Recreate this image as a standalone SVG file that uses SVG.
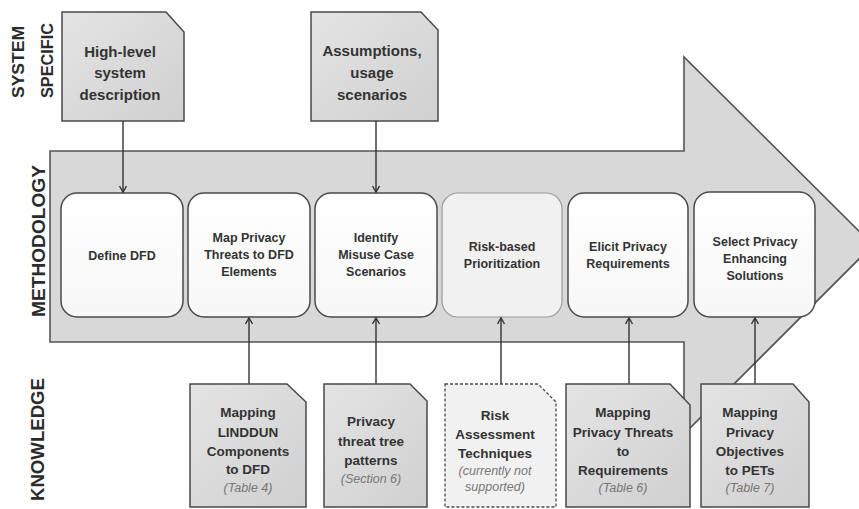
<svg xmlns="http://www.w3.org/2000/svg" width="859" height="509" viewBox="0 0 859 509">
  <defs>
    <linearGradient id="docFill" x1="0" y1="0" x2="1" y2="1">
      <stop offset="0" stop-color="#e4e4e4"/>
      <stop offset="1" stop-color="#d0d0d0"/>
    </linearGradient>
    <linearGradient id="stepFill" x1="0" y1="0" x2="0" y2="1">
      <stop offset="0" stop-color="#ffffff"/>
      <stop offset="1" stop-color="#f7f7f7"/>
    </linearGradient>
    <marker id="head" markerWidth="10" markerHeight="10" refX="7" refY="4" orient="auto" markerUnits="userSpaceOnUse">
      <path d="M1,0.5 L7,4 L1,7.5" fill="none" stroke="#333" stroke-width="1.4"/>
    </marker>
  </defs>
  <style>
    .lane { font-family: "Liberation Sans", Arial, sans-serif; font-weight: bold; fill: #2b2b2b; }
    .doc { fill: url(#docFill); stroke: #4a4a4a; stroke-width: 1.5; }
    .doc-open { fill: #f1f1f1; stroke: #4a4a4a; stroke-width: 1.3; stroke-dasharray: 3 2; }
    .step { fill: url(#stepFill); stroke: #4a4a4a; stroke-width: 1.5; }
    .step-soft { fill: #f1f1f1; stroke: #9a9a9a; stroke-width: 1.2; }
    .t { font-family: "Liberation Sans", Arial, sans-serif; font-weight: bold; fill: #333; text-anchor: middle; }
    .top { font-size: 15px; }
    .mid { font-size: 12.5px; }
    .kn { font-size: 13.5px; }
    .ref { font-family: "Liberation Sans", Arial, sans-serif; font-style: italic; fill: #777; text-anchor: middle; font-size: 12.5px; }
    .conn { stroke: #333; stroke-width: 1.4; fill: none; marker-end: url(#head); }
  </style>

  <!-- lane labels -->
  <g id="lanes">
    <text class="lane" font-size="17" transform="translate(24,98) rotate(-90)" textLength="72" lengthAdjust="spacingAndGlyphs">SYSTEM</text>
    <text class="lane" font-size="17" transform="translate(53,98) rotate(-90)" textLength="75" lengthAdjust="spacingAndGlyphs">SPECIFIC</text>
    <text class="lane" font-size="18.5" transform="translate(45,317) rotate(-90)" textLength="152" lengthAdjust="spacingAndGlyphs">METHODOLOGY</text>
    <text class="lane" font-size="18.5" transform="translate(44,501) rotate(-90)" textLength="123" lengthAdjust="spacingAndGlyphs">KNOWLEDGE</text>
  </g>

  <!-- big process arrow -->
  <g id="process-arrow">
    <polygon points="50,151 684,151 684,57 873,245 684,434 684,342 50,342" fill="#d8d8d8" stroke="#555" stroke-width="1.6" stroke-linejoin="miter"/>
  </g>

  <!-- system specific inputs -->
  <g id="sys-description">
    <path class="doc" d="M62,12 H166 L184,32 V121 H62 Z"/>
    <text class="t top" x="120" y="57">High-level</text>
    <text class="t top" x="120" y="78">system</text>
    <text class="t top" x="120" y="100">description</text>
  </g>
  <g id="sys-assumptions">
    <path class="doc" d="M311,12 H421 L438,30 V121 H311 Z"/>
    <text class="t top" x="372" y="56">Assumptions,</text>
    <text class="t top" x="372" y="78">usage</text>
    <text class="t top" x="372" y="100">scenarios</text>
  </g>

  <!-- methodology steps -->
  <g id="step-define-dfd">
    <rect class="step" x="61" y="193" width="122" height="124" rx="16"/>
    <text class="t mid" x="122" y="260">Define DFD</text>
  </g>
  <g id="step-map-threats">
    <rect class="step" x="188" y="193" width="122" height="124" rx="16"/>
    <text class="t mid" x="249" y="242">Map Privacy</text>
    <text class="t mid" x="249" y="259">Threats to DFD</text>
    <text class="t mid" x="249" y="276">Elements</text>
  </g>
  <g id="step-misuse">
    <rect class="step" x="315" y="193" width="122" height="124" rx="16"/>
    <text class="t mid" x="376" y="242">Identify</text>
    <text class="t mid" x="376" y="259">Misuse Case</text>
    <text class="t mid" x="376" y="276">Scenarios</text>
  </g>
  <g id="step-risk">
    <rect class="step-soft" x="442" y="193" width="120" height="124" rx="16"/>
    <text class="t mid" x="502" y="251">Risk-based</text>
    <text class="t mid" x="502" y="268">Prioritization</text>
  </g>
  <g id="step-elicit">
    <rect class="step" x="568" y="193" width="120" height="124" rx="16"/>
    <text class="t mid" x="628" y="251">Elicit Privacy</text>
    <text class="t mid" x="628" y="268">Requirements</text>
  </g>
  <g id="step-select">
    <rect class="step" x="694" y="192" width="121" height="125" rx="16"/>
    <text class="t mid" x="755" y="246">Select Privacy</text>
    <text class="t mid" x="755" y="263">Enhancing</text>
    <text class="t mid" x="755" y="280">Solutions</text>
  </g>

  <!-- connectors -->
  <g id="connectors">
    <line class="conn" x1="123" y1="121" x2="123" y2="192"/>
    <line class="conn" x1="376" y1="121" x2="376" y2="192"/>
    <line class="conn" x1="249" y1="384" x2="249" y2="318"/>
    <line class="conn" x1="376" y1="384" x2="376" y2="318"/>
    <line class="conn" x1="501" y1="384" x2="501" y2="318"/>
    <line class="conn" x1="629" y1="384" x2="629" y2="318"/>
    <line class="conn" x1="755" y1="384" x2="755" y2="318"/>
  </g>

  <!-- knowledge sources -->
  <g id="kn-linddun">
    <path class="doc" d="M190,384 H287 L306,402 V507 H190 Z"/>
    <text class="t kn" x="248" y="417">Mapping</text>
    <text class="t kn" x="248" y="437">LINDDUN</text>
    <text class="t kn" x="248" y="456">Components</text>
    <text class="t kn" x="248" y="474">to DFD</text>
    <text class="ref" x="248" y="492">(Table 4)</text>
  </g>
  <g id="kn-threat-trees">
    <path class="doc" d="M324,384 H410 L427,401 V507 H324 Z"/>
    <text class="t kn" x="371" y="426">Privacy</text>
    <text class="t kn" x="371" y="446">threat tree</text>
    <text class="t kn" x="371" y="465">patterns</text>
    <text class="ref" x="371" y="483">(Section 6)</text>
  </g>
  <g id="kn-risk">
    <path class="doc-open" d="M445,384 H538 L556,402 V507 H445 Z"/>
    <text class="t kn" x="495" y="420">Risk</text>
    <text class="t kn" x="495" y="439">Assessment</text>
    <text class="t kn" x="495" y="458">Techniques</text>
    <text class="ref" x="495" y="475" font-size="11.5">(currently not</text>
    <text class="ref" x="495" y="491" font-size="11.5">supported)</text>
  </g>
  <g id="kn-requirements">
    <path class="doc" d="M566,384 H670 L690,405 V507 H566 Z"/>
    <text class="t kn" x="623" y="417">Mapping</text>
    <text class="t kn" x="623" y="437">Privacy Threats</text>
    <text class="t kn" x="623" y="456">to</text>
    <text class="t kn" x="623" y="475">Requirements</text>
    <text class="ref" x="623" y="492">(Table 6)</text>
  </g>
  <g id="kn-pets">
    <path class="doc" d="M701,384 H793 L809,402 V507 H701 Z"/>
    <text class="t kn" x="750" y="417">Mapping</text>
    <text class="t kn" x="750" y="437">Privacy</text>
    <text class="t kn" x="750" y="456">Objectives</text>
    <text class="t kn" x="750" y="475">to PETs</text>
    <text class="ref" x="750" y="492">(Table 7)</text>
  </g>
</svg>
